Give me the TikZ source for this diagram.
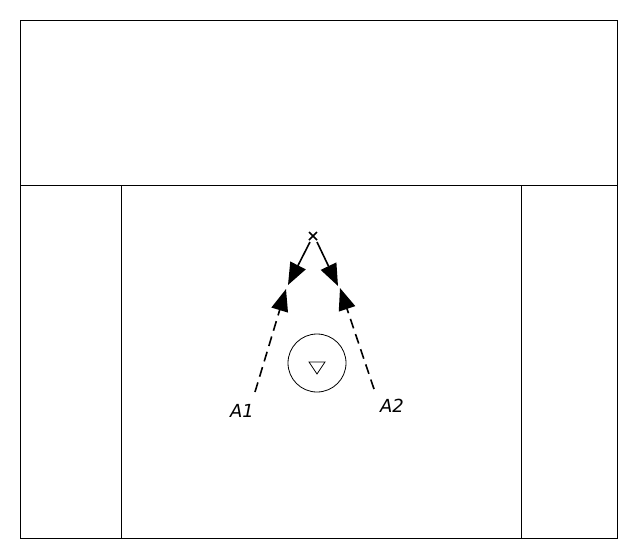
\documentclass[tikz,border=0pt]{standalone}
\usepackage{fontspec}
\setmainfont{DejaVu Sans}
\usetikzlibrary{arrows.meta,calc}
\begin{document}
\begin{tikzpicture}[x=1pt,y=-1pt,
  frame/.style={draw=black, line width=0.8pt},
  move/.style={draw=black, line width=1.6pt, -{Triangle[length=22pt,width=17pt]}},
  pass/.style={move, dash pattern=on 10pt off 6pt},
  lbl/.style={font=\fontsize{18}{20}\selectfont\itshape}]
\useasboundingbox (0,0) rectangle (637,558);
\draw[frame] (20,20) rectangle (617,538);
\draw[frame] (20,185) -- (617,185);
\draw[frame] (121,185) -- (121,538);
\draw[frame] (521,185) -- (521,538);
\coordinate (x) at (313,236);
\draw[line width=1.6pt] ($(x)+(-4,-4)$) -- ($(x)+(4,4)$) ($(x)+(4,-4)$) -- ($(x)+(-4,4)$);
\coordinate (x1) at (310,242);
\coordinate (x2) at (317,242);
\coordinate (t1) at (288,285);
\coordinate (t2) at (338,286);
\draw[move] (x1) -- (t1);
\draw[move] (x2) -- (t2);
\node[draw, circle, minimum size=58pt, inner sep=0pt, line width=0.8pt] (c) at (317,363) {};
\draw[line width=0.8pt] (309,362) -- (325,362) -- (317,374) -- cycle;
\node[lbl] (a1) at (242,411) {A1};
\node[lbl] (a2) at (392,406) {A2};
\coordinate (s1) at (255,392);
\coordinate (s2) at (374,389);
\coordinate (e1) at (286,289);
\coordinate (e2) at (340,288);
\draw[pass] (s1) -- (e1);
\draw[pass] (s2) -- (e2);
\end{tikzpicture}
\end{document}
